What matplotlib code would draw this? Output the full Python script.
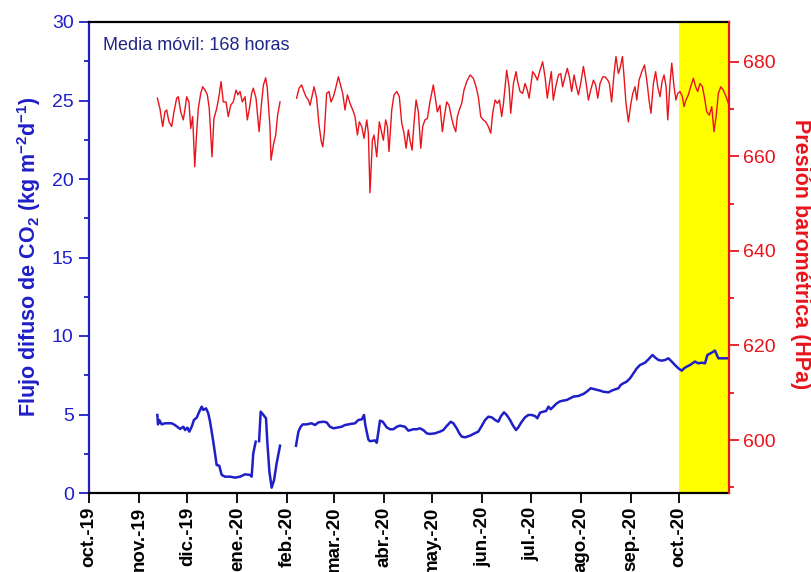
# -------------------------------------------------------------------------------------
# Library
import numpy as np
import pandas as pd
import matplotlib
matplotlib.use('Agg')
import matplotlib.pyplot as plt
from matplotlib.ticker import MultipleLocator
# -------------------------------------------------------------------------------------

# -------------------------------------------------------------------------------------
# Data (days since 2019-10-01, 168 h moving average)
start_date = '2019-10-01'
end_date = '2020-11-01'
band_start = '2020-10-01'

month_labels = ['oct.-19', 'nov.-19', 'dic.-19', 'ene.-20', 'feb.-20', 'mar.-20', 'abr.-20',
                'may.-20', 'jun.-20', 'jul.-20', 'ago.-20', 'sep.-20', 'oct.-20']

# Barometric pressure (HPa), two segments
pres_day_1 = [42.4, 44.0, 45.7, 47.1, 48.2, 49.6, 51.3, 52.7, 54.4, 55.4,
              56.9, 58.5, 59.6, 60.6, 62.0, 63.1, 64.3, 65.6, 66.8, 67.8,
              69.3, 70.5, 72.0, 73.4, 74.6, 76.3, 77.5, 79.2, 80.6, 81.9,
              83.3, 85.0, 86.4, 87.9, 89.5, 91.2, 92.4, 93.7, 95.1, 96.8,
              98.2, 99.5, 100.9, 101.9, 103.6, 105.5, 107.1, 108.2, 109.6, 110.6,
              112.3, 112.9, 114.4, 115.8, 117.0, 118.5]
pres_val_1 = [672.3, 670.1, 666.3, 669.4, 669.8, 667.3, 666.3, 669.4, 672.3, 672.6,
              669.4, 667.7, 670.1, 672.6, 671.5, 665.9, 668.4, 657.8, 665.2, 670.1,
              673.3, 674.7, 674.0, 673.0, 670.1, 659.9, 668.0, 670.1, 672.6, 675.8,
              671.5, 671.5, 668.4, 670.8, 671.5, 674.0, 673.0, 673.7, 671.5, 672.6,
              667.7, 670.1, 673.3, 674.4, 672.3, 665.2, 671.5, 675.1, 676.6, 674.4,
              665.9, 659.2, 662.4, 664.5, 668.7, 671.5]

pres_day_2 = [128.8, 130.3, 131.9, 133.0, 134.6, 136.1, 137.1, 138.1, 139.6, 141.2,
              142.7, 144.1, 145.0, 146.0, 147.4, 148.9, 150.1, 151.6, 153.0, 154.7,
              157.4, 158.8, 160.3, 161.9, 163.6, 165.0, 166.5, 167.7, 169.2, 170.6,
              172.3, 173.3, 174.3, 175.8, 176.8, 178.5, 180.1, 181.6, 182.6, 184.0,
              185.1, 186.1, 187.8, 189.2, 190.9, 192.5, 194.0, 195.4, 196.7, 198.1,
              199.1, 200.4, 201.6, 202.9, 204.3, 205.8, 207.0, 208.4, 209.9, 211.5,
              213.6, 215.0, 216.1, 217.7, 219.2, 220.4, 221.9, 223.3, 225.0, 226.0,
              227.5, 228.5, 229.7, 231.2, 232.6, 234.3, 236.4, 238.4, 240.1, 241.5,
              243.0, 244.6, 246.1, 247.7, 249.2, 250.4, 251.9, 253.3, 254.6, 256.0,
              257.1, 259.1, 260.6, 261.6, 263.3, 264.9, 265.9, 267.4, 269.0, 270.5,
              271.9, 273.0,
              275.2, 276.7, 278.1, 279.8, 281.4, 282.9, 284.3, 285.6, 286.8, 288.0,
              289.5, 291.2, 292.6, 293.8, 295.3, 296.7, 298.0, 299.4, 300.9, 302.1,
              303.6, 305.0, 306.7, 308.1, 309.8, 311.2, 312.9, 314.3, 315.6, 317.0,
              318.7, 320.1, 321.8, 322.8, 324.2, 325.7, 326.9, 328.4, 329.4, 330.9,
              331.9, 333.1, 334.6, 336.0, 337.3, 338.7, 339.8, 341.2, 342.9, 344.6,
              346.0, 347.4, 348.6, 350.1, 351.5, 352.8, 354.2, 355.5, 356.7, 358.0,
              359.0, 360.4, 361.5, 362.9, 364.1, 365.2, 366.6, 368.1, 369.1, 370.3,
              371.8, 373.2, 374.9, 376.3, 377.6, 379.0, 380.5, 381.7, 383.2, 384.8,
              386.3, 387.7, 389.0, 390.4, 391.9, 393.5, 395.2, 396.6]
pres_val_2 = [672.3, 674.4, 675.1, 674.0, 672.6, 671.9, 670.8, 672.3, 674.7, 672.3,
              666.6, 663.1, 662.0, 665.2, 673.3, 673.7, 671.5, 672.6, 674.4, 676.8,
              673.3, 669.8, 673.0, 671.2, 669.8, 668.4, 664.5, 667.3, 666.3, 663.8,
              667.7, 664.9, 652.3, 663.4, 664.5, 659.9, 667.3, 664.9, 663.4, 667.7,
              666.3, 661.0, 669.8, 673.0, 673.7, 672.6, 667.0, 664.9, 661.7, 665.6,
              663.4, 661.3, 667.0, 671.9, 669.4, 661.7, 666.3, 667.7, 668.0, 671.5,
              675.1, 671.9, 669.4, 670.8, 665.2, 668.4, 671.5, 670.8, 668.0, 666.6,
              665.2, 668.4, 669.8, 671.2, 674.0, 675.8, 677.2, 676.5, 674.7, 672.6,
              668.4, 667.7, 667.3, 666.3, 664.9, 669.1, 671.9, 671.2, 671.9, 668.4,
              671.2, 678.2, 674.7, 669.1, 675.4, 677.9, 675.8, 673.7, 673.3, 675.4,
              674.0, 672.3,
              677.9, 677.2, 676.1, 678.2, 680.0, 676.8, 672.3, 675.4, 677.9, 671.9,
              674.7, 677.2, 677.5, 674.7, 676.8, 678.6, 676.8, 673.7, 677.2, 675.1,
              673.0, 675.4, 679.0, 676.1, 671.9, 674.0, 676.1, 675.1, 672.3, 675.4,
              676.8, 676.8, 676.1, 675.4, 671.5, 677.5, 681.1, 677.5, 678.6, 681.1,
              676.8, 671.2, 667.3, 670.8, 673.3, 674.7, 671.9, 676.1, 677.9, 679.3,
              676.1, 671.9, 669.1, 675.4, 677.9, 674.7, 672.6, 675.8, 677.2, 674.7,
              667.7, 675.4, 679.7, 674.7, 671.9, 673.3, 673.7, 672.6, 670.5, 671.9,
              673.0, 674.7, 676.5, 674.7, 673.7, 675.4, 674.7, 672.6, 669.4, 668.7,
              670.5, 665.2, 668.4, 673.3, 674.7, 674.0, 672.6, 671.2]

# Diffuse CO2 flux (kg m-2 d-1), three segments
flux_day_1 = [42.4, 42.8, 43.6, 45.1, 47.1, 51.3, 53.3, 56.5, 58.5, 59.6,
              61.0, 62.2, 63.7, 65.1, 66.8, 68.4, 69.9, 70.9, 72.6, 74.0,
              75.1, 77.1, 79.2, 80.8, 82.3, 84.4, 87.5, 90.6, 93.7, 96.8,
              99.9, 100.9, 101.9, 103.4]
flux_val_1 = [4.97, 4.37, 4.65, 4.37, 4.44, 4.44, 4.33, 4.08, 4.22, 4.01,
              4.16, 3.91, 4.22, 4.65, 4.80, 5.18, 5.50, 5.29, 5.39, 5.07,
              4.54, 3.27, 1.78, 1.74, 1.15, 1.04, 1.04, 0.98, 1.04, 1.19,
              1.15, 1.04, 2.53, 3.27]

flux_day_2 = [105.5, 106.5, 108.2, 109.8, 110.6, 111.9, 113.3, 114.8, 116.4, 118.5]
flux_val_2 = [3.30, 5.18, 4.97, 4.76, 3.27, 1.36, 0.34, 0.83, 1.89, 3.01]

flux_day_3 = [128.4, 129.9, 131.3, 132.6, 135.0, 138.1, 140.2, 142.3, 145.4, 147.4,
              149.5, 151.6, 153.6, 156.7,
              158.8, 161.9, 165.0, 167.1, 169.2, 170.6, 171.4, 173.3, 174.3, 177.4,
              178.5, 180.5, 182.2, 184.7, 186.7, 188.8, 190.9, 192.9, 196.0, 198.1,
              201.2, 203.3, 205.3, 207.4, 209.5, 211.5, 214.6, 217.7, 219.8, 221.9,
              224.4, 226.0, 228.1, 229.7, 231.2, 233.3, 236.4, 238.4, 241.5, 243.6,
              245.7, 247.7, 249.8, 251.9, 253.9, 255.6, 257.4, 259.1, 261.2, 262.8,
              264.9, 266.3, 268.4, 270.5, 272.5, 274.6, 276.7, 278.1,
              279.8, 281.8, 283.5, 285.0, 286.4, 288.1, 289.7, 291.8, 293.8, 296.3,
              298.4, 300.5, 303.6, 306.7, 308.7, 311.2, 313.9, 317.0, 319.1, 322.2,
              324.2, 326.3, 328.4, 329.8, 331.5, 333.5, 335.6, 337.7, 339.8, 341.8,
              344.9, 347.0, 349.5, 351.1, 353.2, 355.3, 357.3, 359.4, 361.5, 363.5,
              365.6, 367.7, 369.1, 370.8, 372.8, 374.9, 375.9, 378.0, 380.1, 382.1,
              383.6, 386.3, 388.3, 390.4, 393.5, 396.6]
flux_val_3 = [3.01, 3.91, 4.22, 4.37, 4.37, 4.44, 4.33, 4.50, 4.54, 4.50,
              4.22, 4.12, 4.16, 4.22,
              4.33, 4.39, 4.44, 4.65, 4.69, 4.97, 4.33, 3.40, 3.30, 3.35,
              3.20, 4.61, 4.54, 4.18, 4.06, 4.06, 4.22, 4.29, 4.22, 3.97,
              4.06, 4.06, 4.12, 4.01, 3.80, 3.76, 3.80, 3.91, 4.01, 4.27,
              4.54, 4.44, 4.12, 3.80, 3.59, 3.55, 3.65, 3.76, 3.91, 4.27,
              4.65, 4.86, 4.82, 4.65, 4.54, 4.90, 5.14, 4.97, 4.65, 4.33,
              4.01, 4.18, 4.54, 4.82, 4.97, 4.97, 4.90, 4.76,
              5.12, 5.18, 5.22, 5.50, 5.33, 5.50, 5.67, 5.82, 5.88, 5.92,
              6.03, 6.14, 6.18, 6.31, 6.45, 6.67, 6.60, 6.52, 6.45, 6.41,
              6.52, 6.60, 6.67, 6.88, 6.99, 7.09, 7.30, 7.62, 7.94, 8.15,
              8.30, 8.51, 8.79, 8.64, 8.47, 8.43, 8.47, 8.58, 8.37, 8.15,
              7.94, 7.79, 7.94, 8.05, 8.15, 8.30, 8.37, 8.26, 8.30, 8.26,
              8.79, 8.94, 9.07, 8.58, 8.58, 8.58]
# -------------------------------------------------------------------------------------


# -------------------------------------------------------------------------------------
# Method to join segments with gaps (NaN) and convert day offsets into dates
def join_segments(day_list, val_list):
    days, vals = [], []
    for d, v in zip(day_list, val_list):
        if days:
            days.append(d[0] - 0.5)
            vals.append(np.nan)
        days.extend(d)
        vals.extend(v)
    dates = pd.Timestamp(start_date) + pd.to_timedelta(np.array(days), unit='D')
    return dates, np.array(vals, dtype=float)
# -------------------------------------------------------------------------------------


# -------------------------------------------------------------------------------------
# Figure
plt.rcParams['font.family'] = ['Liberation Sans', 'DejaVu Sans']
plt.rcParams['mathtext.fontset'] = 'custom'
plt.rcParams['mathtext.rm'] = 'Liberation Sans'
plt.rcParams['mathtext.bf'] = 'Liberation Sans:bold'
plt.rcParams['mathtext.default'] = 'bf'

col_blue = '#1f1fc8'
col_red = '#e8141c'

flux_dates, flux_vals = join_segments([flux_day_1, flux_day_2, flux_day_3],
                                      [flux_val_1, flux_val_2, flux_val_3])
pres_dates, pres_vals = join_segments([pres_day_1, pres_day_2], [pres_val_1, pres_val_2])

fig = plt.figure(figsize=(8.11, 5.72), dpi=100)
ax = fig.add_axes([89 / 811, 1 - 493 / 572, 640 / 811, 471 / 572])
ax2 = ax.twinx()

ax.axvspan(pd.Timestamp(band_start), pd.Timestamp(end_date), color='#ffff00', lw=0, zorder=0)
ax.plot(flux_dates, flux_vals, color=col_blue, lw=1.8, zorder=2)
ax2.plot(pres_dates, pres_vals, color=col_red, lw=1.0)

# x axis
month_ticks = pd.date_range(start_date, band_start, freq='MS')
ax.set_xlim(pd.Timestamp(start_date), pd.Timestamp(end_date))
ax.set_xticks(month_ticks)
ax.set_xticklabels(month_labels, rotation=90, fontweight='bold', fontsize=13.5)
ax.tick_params(axis='x', direction='out', length=7, width=1.3, pad=3, colors='black')

# left axis
ax.set_ylim(0, 30)
ax.yaxis.set_major_locator(MultipleLocator(5))
ax.yaxis.set_minor_locator(MultipleLocator(2.5))
ax.tick_params(axis='y', which='major', direction='out', length=7, width=1.3,
               pad=4, colors=col_blue, labelsize=14)
ax.tick_params(axis='y', which='minor', direction='out', length=3.5, width=1.3, colors=col_blue)

# right axis
ax2.set_ylim(588.8, 688.4)
ax2.yaxis.set_major_locator(MultipleLocator(20))
ax2.yaxis.set_minor_locator(MultipleLocator(10))
ax2.tick_params(axis='y', which='major', direction='out', length=7, width=1.3,
                pad=3, colors=col_red, labelsize=14)
ax2.tick_params(axis='y', which='minor', direction='out', length=3.5, width=1.3, colors=col_red)

# spines
for a in (ax, ax2):
    for s in a.spines.values():
        s.set_linewidth(1.6)
ax.spines['left'].set_color(col_blue)
ax.spines['right'].set_visible(False)
ax2.spines['left'].set_visible(False)
ax2.spines['right'].set_color(col_red)
ax2.spines['top'].set_visible(False)
ax2.spines['bottom'].set_visible(False)

# labels
fig.text(29 / 811, 1 - 257 / 572, r'Flujo difuso de CO$_2$ (kg m$^{-2}$d$^{-1}$)',
         rotation=90, ha='center', va='center', color=col_blue, fontsize=15.5, fontweight='bold')
fig.text(801 / 811, 1 - 254 / 572, 'Presión barométrica (HPa)',
         rotation=270, ha='center', va='center', color=col_red, fontsize=15.5, fontweight='bold')
ax.text(0.022, 0.95, 'Media móvil: 168 horas', transform=ax.transAxes,
        color='#1e2685', fontsize=13, va='center', ha='left')

fig.savefig('out.png', dpi=100)
# -------------------------------------------------------------------------------------
